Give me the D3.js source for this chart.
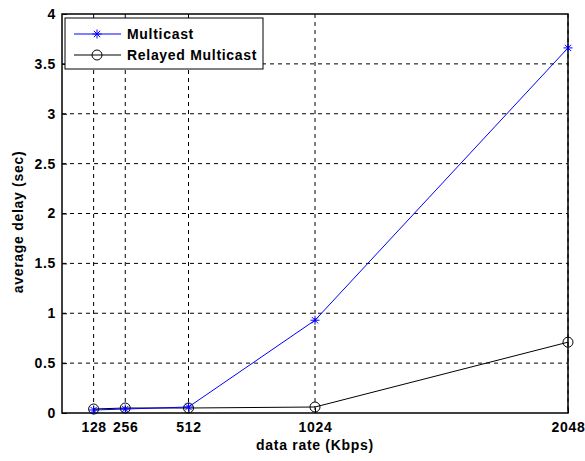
<!DOCTYPE html>
<html>
<head>
<meta charset="utf-8">
<script src="https://cdn.jsdelivr.net/npm/d3@7"></script>
<style>
  body { margin: 0; background: #fff; }
  text { font-family: Arial, "Liberation Sans", sans-serif; font-weight: bold; fill: #000; letter-spacing: 0.7px; }
</style>
</head>
<body>
<svg id="chart" width="585" height="461"></svg>
<script>
// data
var rates = [128, 256, 512, 1024, 2048];
var multicast = [0.03, 0.04, 0.06, 0.93, 3.66];
var relayed = [0.04, 0.05, 0.05, 0.06, 0.71];
var yTicks = [0, 0.5, 1, 1.5, 2, 2.5, 3, 3.5, 4];

var svg = d3.select("#chart");
var pL = 62, pR = 568, pT = 14, pB = 413;

var x = d3.scaleLinear().domain([0, 2048]).range([pL, pR]);
var y = d3.scaleLinear().domain([0, 4]).range([pB, pT]);

// grid
var grid = svg.append("g");
grid.selectAll(".gx")
    .data(rates)
    .enter()
    .append("line")
    .attr("x1", function(d) { return x(d); })
    .attr("x2", function(d) { return x(d); })
    .attr("y1", pT)
    .attr("y2", pB)
    .attr("stroke", "#000")
    .attr("stroke-width", 1)
    .attr("stroke-dasharray", "4,4");
grid.selectAll(".gy")
    .data(yTicks.slice(1, -1))
    .enter()
    .append("line")
    .attr("x1", pL)
    .attr("x2", pR)
    .attr("y1", function(d) { return y(d); })
    .attr("y2", function(d) { return y(d); })
    .attr("stroke", "#000")
    .attr("stroke-width", 1)
    .attr("stroke-dasharray", "4,4");

// axes
var xAxis = d3.axisBottom(x).tickValues(rates).tickSize(-5).tickPadding(9).tickFormat(d3.format("d"));
var yAxis = d3.axisLeft(y).tickValues(yTicks).tickSize(-5).tickPadding(6).tickFormat(function(d) { return d; });

var gx = svg.append("g").attr("transform", "translate(0," + pB + ")").call(xAxis);
var gy = svg.append("g").attr("transform", "translate(" + pL + ",0)").call(yAxis);
[gx, gy].forEach(function(g) {
    g.select(".domain").remove();
    g.selectAll("text").style("font-size", "14px").style("font-family", "Arial").style("font-weight", "bold");
    g.selectAll("line").attr("stroke", "#000");
});

// frame
svg.append("rect")
    .attr("x", pL)
    .attr("y", pT)
    .attr("width", pR - pL)
    .attr("height", pB - pT)
    .attr("fill", "none")
    .attr("stroke", "#000")
    .attr("stroke-width", 1.5);

// series
var line = d3.line()
    .x(function(d) { return x(d[0]); })
    .y(function(d) { return y(d[1]); });

var relData = d3.zip(rates, relayed);
var mcData = d3.zip(rates, multicast);

svg.append("path")
    .datum(relData)
    .attr("d", line)
    .attr("fill", "none")
    .attr("stroke", "#000")
    .attr("stroke-width", 1);
svg.selectAll(".circ")
    .data(relData)
    .enter()
    .append("circle")
    .attr("cx", function(d) { return x(d[0]); })
    .attr("cy", function(d) { return y(d[1]); })
    .attr("r", 5)
    .attr("fill", "none")
    .attr("stroke", "#000");

svg.append("path")
    .datum(mcData)
    .attr("d", line)
    .attr("fill", "none")
    .attr("stroke", "#0000ff")
    .attr("stroke-width", 1);

function star(g, cx, cy, color) {
    var s = 4.5;
    var pts = [[-s, 0, s, 0], [0, -s, 0, s], [-s * 0.7, -s * 0.7, s * 0.7, s * 0.7], [-s * 0.7, s * 0.7, s * 0.7, -s * 0.7]];
    pts.forEach(function(p) {
        g.append("line")
            .attr("x1", cx + p[0]).attr("y1", cy + p[1])
            .attr("x2", cx + p[2]).attr("y2", cy + p[3])
            .attr("stroke", color).attr("stroke-width", 1);
    });
}
var stars = svg.append("g");
mcData.forEach(function(d) { star(stars, x(d[0]), y(d[1]), "#0000ff"); });

// axis labels
svg.append("text")
    .attr("x", (pL + pR) / 2)
    .attr("y", 450)
    .attr("text-anchor", "middle")
    .style("font-size", "14px")
    .text("data rate (Kbps)");
svg.append("text")
    .attr("transform", "translate(23,222) rotate(-90)")
    .attr("text-anchor", "middle")
    .style("font-size", "14px")
    .text("average delay (sec)");

// legend
var lg = svg.append("g");
lg.append("rect")
    .attr("x", 65)
    .attr("y", 18)
    .attr("width", 198)
    .attr("height", 51)
    .attr("fill", "#fff")
    .attr("stroke", "#000")
    .attr("stroke-width", 1);
lg.append("line").attr("x1", 74).attr("x2", 121).attr("y1", 34).attr("y2", 34).attr("stroke", "#0000ff");
star(lg, 97, 34, "#0000ff");
lg.append("line").attr("x1", 74).attr("x2", 121).attr("y1", 55).attr("y2", 55).attr("stroke", "#000");
lg.append("circle").attr("cx", 97).attr("cy", 55).attr("r", 5).attr("fill", "none").attr("stroke", "#000");
lg.append("text").attr("x", 127).attr("y", 39).style("font-size", "14px").text("Multicast");
lg.append("text").attr("x", 127).attr("y", 60).style("font-size", "14px").text("Relayed Multicast");
</script>
</body>
</html>
